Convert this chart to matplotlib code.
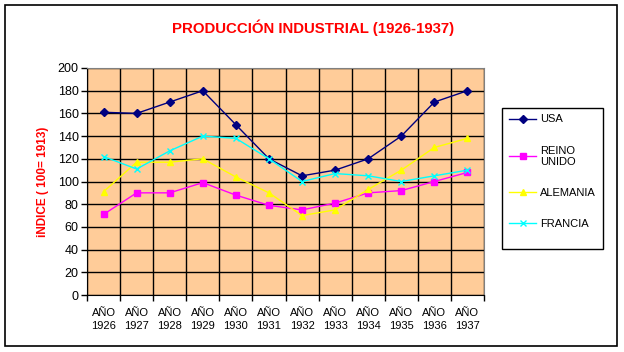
import numpy as np
import matplotlib
matplotlib.use("Agg")
from matplotlib import pyplot as plt
from matplotlib.patches import Rectangle

plt.rcParams['font.family'] = ['Liberation Sans', 'DejaVu Sans']

years = ["1926", "1927", "1928", "1929", "1930", "1931",
         "1932", "1933", "1934", "1935", "1936", "1937"]
usa = [161, 160, 170, 180, 150, 120, 105, 110, 120, 140, 170, 180]
reino_unido = [71, 90, 90, 99, 88, 79, 75, 81, 90, 92, 100, 108]
alemania = [91, 117, 117, 120, 104, 90, 70, 75, 93, 110, 130, 138]
francia = [122, 111, 127, 140, 138, 120, 100, 107, 105, 100, 105, 110]

W, H = 624, 352
fig = plt.figure(figsize=(W / 100, H / 100), dpi=100)
fig.patch.set_facecolor("white")

# outer chart border
fig.add_artist(Rectangle((5 / W, 1 - 346 / H), 612 / W, 341 / H, transform=fig.transFigure,
                         fill=False, edgecolor="black", linewidth=1.2))
# legend frame
fig.add_artist(Rectangle((502 / W, 1 - 249 / H), 101 / W, 141 / H, transform=fig.transFigure,
                         fill=False, edgecolor="black", linewidth=1))

ax = fig.add_axes([87 / W, 1 - 295 / H, 397 / W, 227 / H])
ax.set_facecolor("#FFCC99")

x = np.arange(len(years))
ax.plot(x, usa, color="#000080", marker="D", markersize=4, linewidth=1, label="USA")
ax.plot(x, reino_unido, color="#FF00FF", marker="s", markersize=5, linewidth=1, label="REINO\nUNIDO")
ax.plot(x, alemania, color="#FFFF00", marker="^", markersize=5, linewidth=1, label="ALEMANIA")
ax.plot(x, francia, color="#00FFFF", marker="x", markersize=5, linewidth=1, label="FRANCIA")

ax.set_xlim(-0.5, len(years) - 0.5)
ax.set_ylim(0, 200)
ax.set_yticks(np.arange(0, 201, 20))
ax.set_xticks(x)
ax.set_xticklabels(["AÑO\n" + y for y in years], fontsize=8, linespacing=1.45)
ax.set_xticks(np.arange(-0.5, len(years), 1), minor=True)
ax.tick_params(axis="x", which="major", length=0, pad=9)
ax.tick_params(axis="x", which="minor", length=4, direction="out", width=1)
ax.tick_params(axis="y", length=4, width=1, labelsize=9, pad=2)

ax.grid(True, which="minor", axis="x", color="black", linewidth=1)
ax.grid(True, which="major", axis="y", color="black", linewidth=1)
ax.set_axisbelow(True)
for s in ["top", "right"]:
    ax.spines[s].set_color("#808080")
for s in ["left", "bottom"]:
    ax.spines[s].set_color("black")

ax.set_ylabel("iNDICE ( 100= 1913)", color="red", fontsize=8.5, fontweight="bold", labelpad=6)

fig.text(313 / W, 1 - 28 / H, "PRODUCCIÓN INDUSTRIAL (1926-1937)", color="red",
         fontsize=10.8, fontweight="bold", ha="center", va="center")

leg = fig.legend(loc="upper left", bbox_to_anchor=(505 / W, 1 - 110 / H), fontsize=8,
                 frameon=False, handlelength=2.4, borderaxespad=0,
                 handletextpad=0.35, labelspacing=1.9, borderpad=0.4)

fig.savefig("out.png", dpi=100)
